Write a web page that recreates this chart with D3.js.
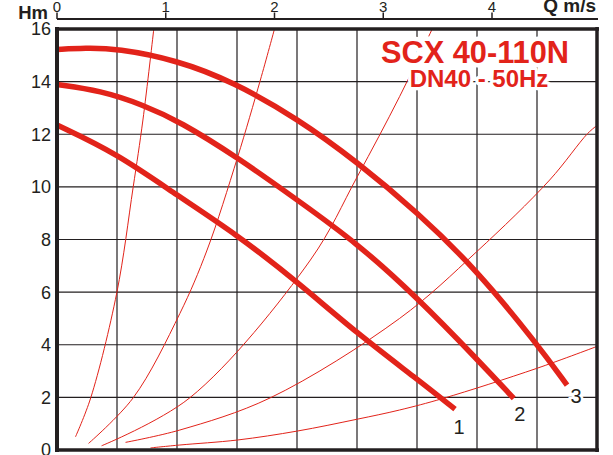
<!DOCTYPE html>
<html>
<head>
<meta charset="utf-8">
<script src="https://cdn.jsdelivr.net/npm/d3@7"></script>
<style>
  html, body { margin: 0; padding: 0; background: #fff; }
  svg { display: block; font-family: "Liberation Sans", Arial, Helvetica, sans-serif; }
</style>
</head>
<body>
<div id="chart"></div>
<script>
// 轴刻度
const qTicks = [0, 1, 2, 3, 4]
const hTicks = [0, 2, 4, 6, 8, 10, 12, 14, 16]
const gridCols = 9

// 标题
const title = "SCX 40-110N"
const subtitle = "DN40 - 50Hz"

// 泵曲线 [Q, H]
const pump1 = [[0, 12.35], [0.55, 11.27], [1.10, 9.69], [1.66, 8.17], [2.21, 6.39], [2.76, 4.43], [3.31, 2.70], [3.66, 1.55]]
const pump2 = [[0, 13.89], [0.40, 13.66], [0.79, 13.12], [1.13, 12.48], [1.66, 11.12], [2.21, 9.50], [2.76, 7.86], [3.31, 5.80], [3.87, 3.42], [4.20, 1.96]]
const pump3 = [[0, 15.22], [0.26, 15.28], [0.55, 15.26], [1.10, 14.82], [1.62, 13.99], [2.21, 12.60], [2.76, 10.95], [3.31, 9.05], [3.86, 6.84], [4.41, 4.05], [4.69, 2.47]]
const pumpLabels = ["1", "2", "3"]

// 系统曲线 [Q, H]
const sysA = [[0.17, 0.5], [0.31, 1.98], [0.55, 5.98], [0.70, 9.98], [0.79, 12.54], [0.89, 16]]
const sysB = [[0.29, 0.25], [0.70, 1.98], [1.13, 5.19], [1.38, 7.6], [1.66, 11.12], [1.87, 14.06], [2.0, 16]]
const sysC = [[0.41, 0.16], [1.22, 1.98], [2.33, 7.22], [2.76, 10.38], [3.15, 13.43], [3.45, 16]]
const sysD = [[0.63, 0.29], [1.13, 0.76], [1.96, 1.98], [3.15, 5.0], [3.86, 7.54], [4.53, 10.26], [4.88, 12.03], [4.97, 12.35]]
const sysE = [[0.86, 0.08], [1.13, 0.19], [1.66, 0.38], [2.21, 0.72], [2.76, 1.17], [3.15, 1.52], [3.55, 1.96], [4.41, 3.10], [4.98, 3.96]]

const W = 613, H = 455
const plot = { left: 57, right: 597, top: 29, bottom: 450 }
const red = "#e2231a"
const ink = "#231f20"

const svg = d3.select("#chart").append("svg")
  .attr("width", W).attr("height", H).attr("viewBox", `0 0 ${W} ${H}`)

const x = d3.scaleLinear().domain([0, 4]).range([plot.left, 492])
const y = d3.scaleLinear().domain([0, 16]).range([plot.bottom, plot.top])
const col = d3.scaleLinear().domain([0, gridCols]).range([plot.left, plot.right])

svg.append("defs").append("clipPath").attr("id", "plotClip")
  .append("rect")
  .attr("x", plot.left).attr("y", plot.top)
  .attr("width", plot.right - plot.left).attr("height", plot.bottom - plot.top)

// 网格
const grid = svg.append("g").attr("stroke", ink).attr("stroke-width", 1.2)
grid.selectAll(".vgrid")
  .data(d3.range(1, gridCols))
  .enter().append("line")
  .attr("x1", d => col(d)).attr("x2", d => col(d))
  .attr("y1", plot.top).attr("y2", plot.bottom)
grid.selectAll(".hgrid")
  .data(hTicks.slice(1, -1))
  .enter().append("line")
  .attr("x1", plot.left).attr("x2", plot.right)
  .attr("y1", d => y(d)).attr("y2", d => y(d))

const thinLine = d3.line()
  .x(d => x(d[0])).y(d => y(d[1]))
  .curve(d3.curveCatmullRom.alpha(0.5))
const thickLine = d3.line()
  .x(d => x(d[0])).y(d => y(d[1]))
  .curve(d3.curveBasis)

// 系统曲线
svg.append("g").attr("clip-path", "url(#plotClip)")
  .selectAll("path")
  .data([sysA, sysB, sysC, sysD, sysE])
  .enter().append("path")
  .attr("d", thinLine)
  .attr("fill", "none")
  .attr("stroke", red)
  .attr("stroke-width", 1)

// 泵曲线
const pumps = [pump1, pump2, pump3]
svg.append("g")
  .selectAll("path")
  .data(pumps)
  .enter().append("path")
  .attr("d", thickLine)
  .attr("fill", "none")
  .attr("stroke", red)
  .attr("stroke-width", 5.5)

// 曲线编号
const labelOffset = [[4, 25], [6, 22.5], [9, 17.5]]
svg.append("g")
  .selectAll("text")
  .data(pumps)
  .enter().append("text")
  .text((d, i) => pumpLabels[i])
  .attr("x", (d, i) => x(d[d.length - 1][0]) + labelOffset[i][0])
  .attr("y", (d, i) => y(d[d.length - 1][1]) + labelOffset[i][1])
  .attr("text-anchor", "middle")
  .attr("font-size", 20)
  .attr("fill", ink)
  .attr("stroke", "#fff").attr("stroke-width", 5)
  .attr("paint-order", "stroke")

// 边框
const frame = svg.append("g").attr("stroke", ink).attr("fill", "none")
frame.append("line")
  .attr("x1", plot.left).attr("x2", plot.left)
  .attr("y1", plot.top - 2).attr("y2", plot.bottom + 2)
  .attr("stroke-width", 4)
frame.append("line")
  .attr("x1", plot.right).attr("x2", plot.right)
  .attr("y1", plot.top - 2).attr("y2", plot.bottom + 2)
  .attr("stroke-width", 3.5)
frame.append("line")
  .attr("x1", plot.left - 2).attr("x2", plot.right + 2)
  .attr("y1", plot.top).attr("y2", plot.top)
  .attr("stroke-width", 3.5)
frame.append("line")
  .attr("x1", plot.left - 2).attr("x2", plot.right + 2)
  .attr("y1", plot.bottom).attr("y2", plot.bottom)
  .attr("stroke-width", 3.5)

// 顶部 Q 轴
const qAxis = svg.append("g")
qAxis.append("line")
  .attr("x1", plot.left).attr("x2", plot.right + 1)
  .attr("y1", 19).attr("y2", 19)
  .attr("stroke", ink).attr("stroke-width", 1.8)
qAxis.selectAll(".qtick")
  .data(qTicks)
  .enter().append("line")
  .attr("x1", d => x(d)).attr("x2", d => x(d))
  .attr("y1", 12.5).attr("y2", 19)
  .attr("stroke", ink).attr("stroke-width", 1.5)
qAxis.selectAll(".qlabel")
  .data(qTicks)
  .enter().append("text")
  .text(d => d)
  .attr("x", d => x(d)).attr("y", 12)
  .attr("text-anchor", "middle")
  .attr("font-size", 15)
  .attr("fill", ink)
qAxis.append("text")
  .text("Q m/s")
  .attr("x", 596).attr("y", 12)
  .attr("text-anchor", "end")
  .attr("font-size", 19).attr("font-weight", "bold")
  .attr("fill", ink)

// 左侧 H 轴
svg.append("g")
  .selectAll("text")
  .data(hTicks)
  .enter().append("text")
  .text(d => d)
  .attr("x", 51).attr("y", d => y(d))
  .attr("dy", "0.36em")
  .attr("text-anchor", "end")
  .attr("font-size", 18)
  .attr("fill", ink)
svg.append("text")
  .text("Hm")
  .attr("x", 48).attr("y", 18.5)
  .attr("text-anchor", "end")
  .attr("font-size", 18.5).attr("font-weight", "bold")
  .attr("fill", ink)

// 标题
svg.append("text")
  .text(title)
  .attr("x", 475).attr("y", 63.3)
  .attr("text-anchor", "middle")
  .attr("font-size", 32).attr("font-weight", "bold")
  .attr("textLength", 188).attr("lengthAdjust", "spacingAndGlyphs")
  .attr("fill", red)
  .attr("stroke", "#fff").attr("stroke-width", 9).attr("stroke-linejoin", "round")
  .attr("paint-order", "stroke")
svg.append("text")
  .text(subtitle)
  .attr("x", 479).attr("y", 87.3)
  .attr("text-anchor", "middle")
  .attr("font-size", 24).attr("font-weight", "bold")
  .attr("fill", red)
  .attr("stroke", "#fff").attr("stroke-width", 6.5).attr("stroke-linejoin", "round")
  .attr("paint-order", "stroke")
</script>
</body>
</html>
